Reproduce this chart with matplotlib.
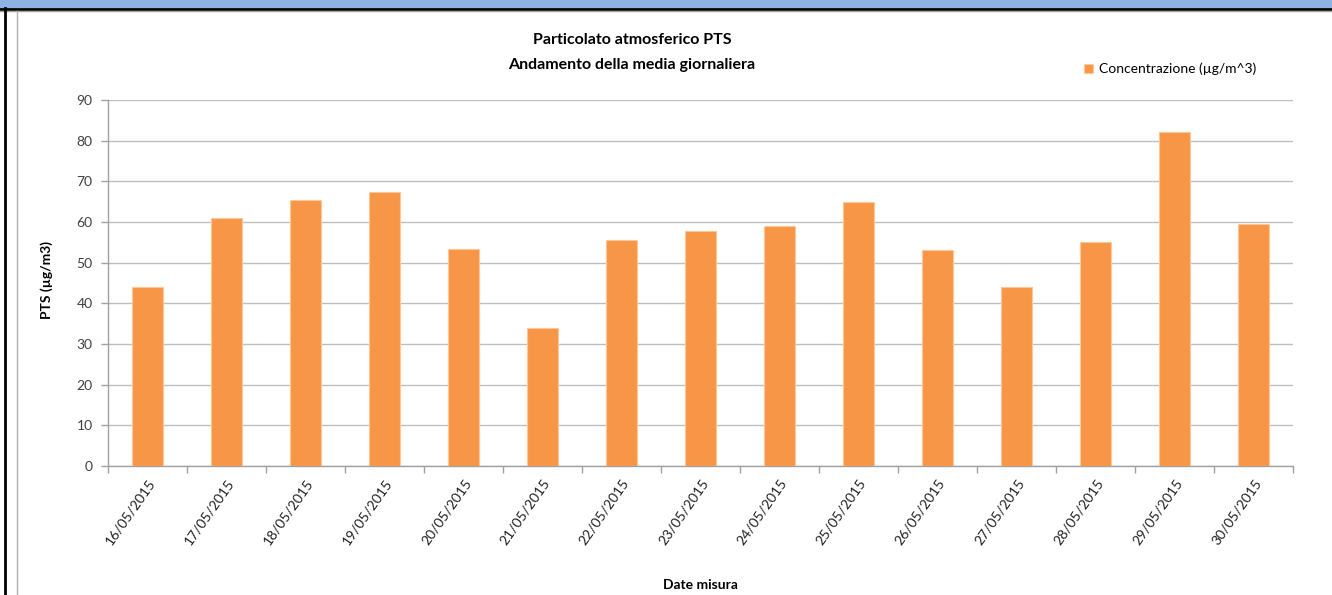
import matplotlib
matplotlib.use("Agg")
import matplotlib.pyplot as plt
from matplotlib.patches import Rectangle
from matplotlib.lines import Line2D
import numpy as np

categories = ["16/05/2015", "17/05/2015", "18/05/2015", "19/05/2015", "20/05/2015",
              "21/05/2015", "22/05/2015", "23/05/2015", "24/05/2015", "25/05/2015",
              "26/05/2015", "27/05/2015", "28/05/2015", "29/05/2015", "30/05/2015"]
values = [44.0, 60.9, 65.5, 67.3, 53.3, 33.9, 55.6, 57.8, 58.9, 64.8,
          53.1, 44.0, 55.0, 82.2, 59.6]
yticks = [0, 10, 20, 30, 40, 50, 60, 70, 80, 90]

title_lines = ["Particolato atmosferico PTS", "Andamento della media giornaliera"]
series_name = "Concentrazione (µg/m^3)"
ylabel = "PTS (µg/m3)"
xlabel = "Date misura"

plt.rcParams['font.family'] = ['Lato', 'DejaVu Sans']

W, H = 1332, 595
fig = plt.figure(figsize=(W / 100, H / 100), dpi=100)

# frame decorations (banner + borders)
fig.patches.append(Rectangle((0, 1 - 8 / H), 1, 8 / H, transform=fig.transFigure,
                             facecolor="#8DB3E2", edgecolor="none", zorder=0))
fig.lines.append(Line2D([0, 1], [1 - 9 / H, 1 - 9 / H], transform=fig.transFigure,
                        color="black", lw=2.0))
fig.lines.append(Line2D([0, 1], [1 - 11 / H, 1 - 11 / H], transform=fig.transFigure,
                        color="#A0A0A0", lw=1.0))
fig.lines.append(Line2D([5 / W, 5 / W], [0, 1 - 8 / H], transform=fig.transFigure,
                        color="black", lw=2.0))
fig.lines.append(Line2D([16.5 / W, 16.5 / W], [0, 1 - 11 / H], transform=fig.transFigure,
                        color="#B0B0B0", lw=1.0))

left, right = 108 / W, 1293 / W
bottom, top = 1 - 465.8 / H, 1 - 100 / H
ax = fig.add_axes([left, bottom, right - left, top - bottom])

x = np.arange(len(categories))
ax.bar(x, values, width=0.39, color="#F79646", edgecolor="#FBC79B", linewidth=0.8, zorder=3,
       label=series_name)

ax.set_xlim(-0.5, len(categories) - 0.5)
ax.set_ylim(0, 90)
ax.set_yticks(yticks)
ax.set_yticklabels([str(v) for v in yticks], fontsize=10, color="#404040")
ax.yaxis.grid(True, color="#BEBEBE", lw=1.0, zorder=0)
ax.set_axisbelow(True)

ax.set_xticks(x)
ax.set_xticklabels(categories, rotation=55, ha="right", rotation_mode="anchor",
                   fontsize=10, color="#202020")
ax.tick_params(axis="x", length=0, pad=8)
ax.set_xticks(np.arange(len(categories) + 1) - 0.5, minor=True)
ax.tick_params(axis="x", which="minor", length=5, color="#A0A0A0", width=1)
ax.tick_params(axis="y", length=5, color="#A0A0A0", width=1, pad=6)

for s in ["top", "right"]:
    ax.spines[s].set_visible(False)
for s in ["left", "bottom"]:
    ax.spines[s].set_color("#A0A0A0")
    ax.spines[s].set_linewidth(1.0)

ax.set_ylabel(ylabel, fontsize=10, fontweight="bold", labelpad=22)
ax.yaxis.set_label_coords(47 / W - left, 0.5, transform=None) if False else None
fig.text(47 / W, 1 - 280 / H, ylabel, rotation=90, ha="center", va="center",
         fontsize=10, fontweight="bold")
ax.set_ylabel("")

fig.text(632 / W, 1 - 40 / H, title_lines[0], ha="center", va="center",
         fontsize=11.5, fontweight="bold")
fig.text(632 / W, 1 - 65 / H, title_lines[1], ha="center", va="center",
         fontsize=11.5, fontweight="bold")

fig.text(700 / W, 1 - 585 / H, xlabel, ha="center", va="center",
         fontsize=10, fontweight="bold")

leg = fig.legend(loc="center left", bbox_to_anchor=(1078 / W, 1 - 69 / H), frameon=False,
                 fontsize=10, handlelength=0.7, handleheight=0.7, handletextpad=0.4,
                 borderaxespad=0)

fig.savefig("out.png", dpi=100)
